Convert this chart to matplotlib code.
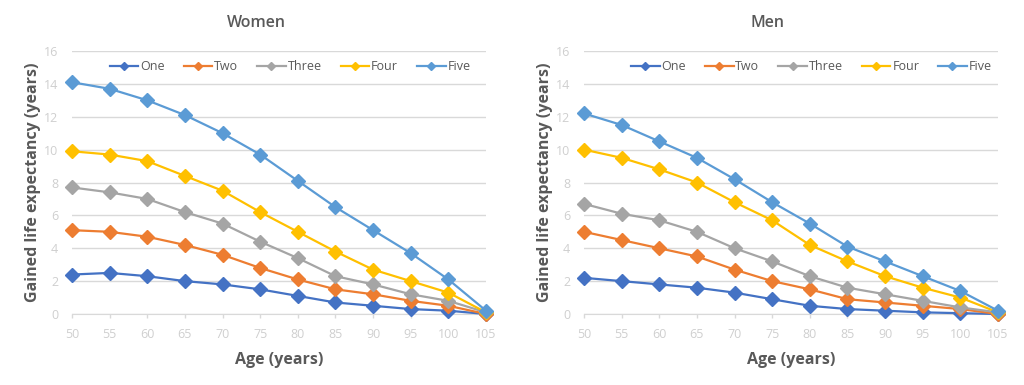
import matplotlib.pyplot as plt
from matplotlib.lines import Line2D

plt.rcParams['font.family'] = ['Open Sans', 'DejaVu Sans']

ages = [50, 55, 60, 65, 70, 75, 80, 85, 90, 95, 100, 105]
series_names = ["One", "Two", "Three", "Four", "Five"]
colors = ["#4472C4", "#ED7D31", "#A5A5A5", "#FFC000", "#5B9BD5"]

# Women
women_one = [2.4, 2.5, 2.3, 2.0, 1.8, 1.5, 1.1, 0.7, 0.5, 0.3, 0.2, 0.0]
women_two = [5.1, 5.0, 4.7, 4.2, 3.6, 2.8, 2.1, 1.5, 1.2, 0.8, 0.5, 0.0]
women_three = [7.7, 7.4, 7.0, 6.2, 5.5, 4.4, 3.4, 2.3, 1.8, 1.2, 0.8, 0.1]
women_four = [9.9, 9.7, 9.3, 8.4, 7.5, 6.2, 5.0, 3.8, 2.7, 2.0, 1.3, 0.1]
women_five = [14.1, 13.7, 13.0, 12.1, 11.0, 9.7, 8.1, 6.5, 5.1, 3.7, 2.1, 0.2]

# Men
men_one = [2.2, 2.0, 1.8, 1.6, 1.3, 0.9, 0.5, 0.3, 0.2, 0.1, 0.05, 0.0]
men_two = [5.0, 4.5, 4.0, 3.5, 2.7, 2.0, 1.5, 0.9, 0.7, 0.5, 0.3, 0.0]
men_three = [6.7, 6.1, 5.7, 5.0, 4.0, 3.2, 2.3, 1.6, 1.2, 0.8, 0.4, 0.1]
men_four = [10.0, 9.5, 8.8, 8.0, 6.8, 5.7, 4.2, 3.2, 2.3, 1.6, 1.0, 0.1]
men_five = [12.2, 11.5, 10.5, 9.5, 8.2, 6.8, 5.5, 4.1, 3.2, 2.3, 1.4, 0.2]

panels = [
    ("Women", [women_one, women_two, women_three, women_four, women_five], 0.0, 0.527),
    ("Men", [men_one, men_two, men_three, men_four, men_five], 0.5, 0.549),
]

label_col = "#595959"
tick_col = "#cfcfcf"
grid_col = "#d9d9d9"

fig = plt.figure(figsize=(10.24, 3.85), dpi=100)

for title, data, x0, leg_x in panels:
    ax = fig.add_axes([x0 + 72 / 1024, 1 - 314 / 385, 414 / 1024, 263 / 385])
    for name, vals, c in zip(series_names, data, colors):
        ax.plot(ages, vals, color=c, lw=1.6, marker="D", ms=7.5, label=name,
                clip_on=False, zorder=3)
    ax.set_xlim(50, 105)
    ax.set_ylim(0, 16)
    ax.set_xticks(ages)
    ax.set_yticks(range(0, 17, 2))
    ax.grid(axis="y", color=grid_col, lw=1)
    ax.set_axisbelow(True)
    for s in ["top", "right", "left"]:
        ax.spines[s].set_visible(False)
    ax.spines["bottom"].set_color(grid_col)
    ax.tick_params(axis="x", colors=grid_col, length=3, width=1, pad=7,
                   labelsize=9, labelcolor=tick_col)
    ax.tick_params(axis="y", length=0, pad=10, labelsize=9, labelcolor=tick_col)
    ax.set_xlabel("Age (years)", fontsize=11.5, fontweight="bold", color=label_col,
                  labelpad=8)
    ax.set_ylabel("Gained life expectancy (years)", fontsize=11.5,
                  fontweight="bold", color=label_col, labelpad=2)
    fig.text(x0 + 256 / 1024, 1 - 23 / 385, title, ha="center", va="center",
             fontsize=11.5, fontweight="semibold", color=label_col)
    handles = [Line2D([], [], color=c, lw=1.6, marker="D", ms=4) for c in colors]
    ax.legend(handles, series_names, loc="center", bbox_to_anchor=(leg_x, 0.94),
              ncol=5, frameon=False, fontsize=9, handlelength=2.3,
              handletextpad=0.15, columnspacing=1.5, labelcolor=label_col)

fig.savefig("out.png", dpi=100)
